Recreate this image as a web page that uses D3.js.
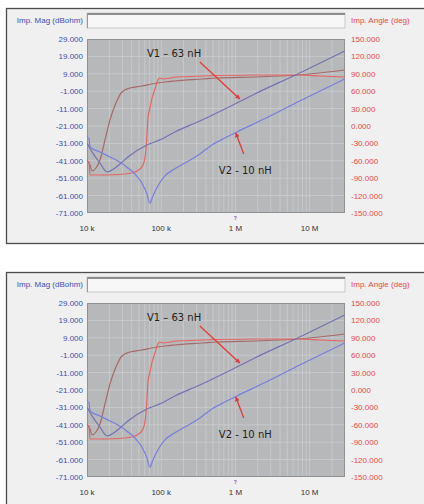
<!DOCTYPE html>
<html>
<head>
<meta charset="utf-8">
<script src="https://cdn.jsdelivr.net/npm/d3@7"></script>
<style>
html,body{margin:0;padding:0;background:#fff;}
svg{display:block;}
</style>
</head>
<body>
<svg id="chart" width="424" height="504"></svg>
<script>
// ---- data ----
const xTicks = [1e4, 1e5, 1e6, 1e7];
const xTickLabels = ["10 k", "100 k", "1 M", "10 M"];
const magTicks = [29, 19, 9, -1, -11, -21, -31, -41, -51, -61, -71];
const angleTicks = [150, 120, 90, 60, 30, 0, -30, -60, -90, -120, -150];

// V1 (63 nH) impedance magnitude, dBohm
const v1MagFreq = [10000, 11680, 14960, 18580, 21700, 27810, 35630, 64200, 96050, 152900, 331900, 1044000, 1824000, 7359000, 29680000];
const v1Mag     = [-30.8, -35.9, -42.3, -47.4, -46.3, -42.8, -38.8, -31.9, -29.0, -24.4, -18.1, -7.8, -2.6, 9.5, 22.1];

// V2 (10 nH) impedance magnitude, dBohm
const v2MagFreq = [10000, 10640, 10970, 14960, 20390, 26140, 35630, 44260, 54990, 64200, 70460, 77300, 90300, 112100, 143700, 208400, 331900, 481300, 720000, 1044000, 2267000, 7359000, 29680000];
const v2Mag     = [-27.9, -27.9, -33.1, -35.9, -38.8, -41.1, -45.1, -48.6, -53.8, -60.1, -65.3, -61.2, -55.5, -49.7, -46.3, -42.3, -37.1, -31.9, -27.9, -24.4, -17.6, -6.6, 6.0];

// V1 impedance angle, deg
const v1AngFreq = [10000, 10970, 11680, 13220, 14960, 17470, 20390, 24570, 29590, 37900, 54990, 74940, 112100, 152900, 364000, 561900, 1824000, 6915000, 29680000];
const v1Ang     = [-58.6, -67.2, -77.6, -72.4, -58.6, -24.1, 10.3, 39.7, 58.6, 65.5, 69.0, 72.4, 75.9, 77.6, 81.0, 82.8, 84.5, 87.9, 96.6];

// V2 impedance angle, deg
const v2AngFreq = [10000, 10640, 10970, 17470, 32460, 44260, 51690, 56720, 60330, 64200, 66220, 70460, 74940, 82280, 90300, 96050, 105400, 162700, 1824000, 7359000, 13680000, 29680000];
const v2Ang     = [-60.3, -62.1, -84.5, -84.5, -82.8, -79.3, -74.1, -67.2, -55.2, -17.2, 12.1, 31.0, 46.6, 63.8, 79.3, 82.8, 81.0, 84.5, 87.9, 87.9, 86.2, 84.5];

// annotations (data coordinates: frequency, dBohm)
const labelTexts = ["V1 – 63 nH", "V2 - 10 nH"];
const labelFreq  = [64200, 597900];
const labelMag   = [18.7, -48.6];
const arrowFromFreq = [331900, 1297000];
const arrowFromMag  = [15.8, -37.1];
const arrowToFreq   = [1146000, 1013000];
const arrowToMag    = [-5.5, -25.0];

// ---- drawing ----
const svg = d3.select("#chart");
const L = 87, R = 345, T = 39, B = 213;

const defs = svg.append("defs");
defs.append("marker")
  .attr("id", "ah").attr("viewBox", "0 0 10 10")
  .attr("refX", 9).attr("refY", 5)
  .attr("markerWidth", 5).attr("markerHeight", 5)
  .attr("markerUnits", "userSpaceOnUse")
  .attr("orient", "auto")
  .append("path").attr("d", "M0,0 L10,5 L0,10 z").attr("fill", "#e63a3a");
defs.append("clipPath").attr("id", "plotclip")
  .append("rect").attr("x", L).attr("y", T).attr("width", R - L).attr("height", B - T);

const x = d3.scaleLog().domain([1e4, 3e7]).range([L, R]);
const yMag = d3.scaleLinear().domain([-71, 29]).range([B, T]);
const yAng = d3.scaleLinear().domain([-150, 150]).range([B, T]);

const series = [
  {f: v1AngFreq, v: v1Ang, y: yAng, color: "#a76a6a"},
  {f: v2AngFreq, v: v2Ang, y: yAng, color: "#e86565"},
  {f: v1MagFreq, v: v1Mag, y: yMag, color: "#7474ae"},
  {f: v2MagFreq, v: v2Mag, y: yMag, color: "#7a7de0"}
];

function drawPanel(dy) {
  const g = svg.append("g").attr("transform", `translate(0,${dy})`);

  // frame
  g.append("rect").attr("x", 6.5).attr("y", 8.5).attr("width", 430).attr("height", 235)
    .attr("fill", "#f0f0f0").attr("stroke", "#4d4d4d").attr("stroke-width", 1.3);

  // header box
  g.append("rect").attr("x", L).attr("y", 13).attr("width", R - L).attr("height", 15)
    .attr("fill", "#f7f7f7").attr("stroke", "#c9c9c9").attr("stroke-width", 1);
  g.append("line").attr("x1", L).attr("x2", R).attr("y1", 14).attr("y2", 14)
    .attr("stroke", "#8e8e8e").attr("stroke-width", 2);
  g.append("line").attr("x1", L + 0.5).attr("x2", L + 0.5).attr("y1", 13).attr("y2", 28)
    .attr("stroke", "#9a9a9a").attr("stroke-width", 1);

  // axis titles
  g.append("text").attr("x", 83).attr("y", 23).attr("text-anchor", "end")
    .attr("font-family", "Liberation Sans, Arial, sans-serif").attr("font-size", 8)
    .attr("fill", "#3b4fb0").text("Imp. Mag (dBohm)");
  g.append("text").attr("x", 351).attr("y", 23).attr("text-anchor", "start")
    .attr("font-family", "Liberation Sans, Arial, sans-serif").attr("font-size", 8)
    .attr("fill", "#e84848").text("Imp. Angle (deg)");

  // plot background
  g.append("rect").attr("x", L).attr("y", T).attr("width", R - L).attr("height", B - T)
    .attr("fill", "#b6b8ba");

  // vertical log grid
  const vgrid = [];
  for (let e = 4; e <= 7; e++) for (let k = 1; k <= 9; k++) {
    const f = k * Math.pow(10, e);
    if (f > 1e4 && f < 3e7) vgrid.push(f);
  }
  g.append("g").selectAll("line").data(vgrid).join("line")
    .attr("x1", d => x(d)).attr("x2", d => x(d)).attr("y1", T).attr("y2", B)
    .attr("stroke", "#cbcdcf").attr("stroke-width", 0.8);
  // horizontal grid
  g.append("g").selectAll("line").data(magTicks.slice(1, -1)).join("line")
    .attr("x1", L).attr("x2", R).attr("y1", d => yMag(d)).attr("y2", d => yMag(d))
    .attr("stroke", "#cbcdcf").attr("stroke-width", 0.8);

  g.append("rect").attr("x", L + 0.5).attr("y", T + 0.5).attr("width", R - L - 1).attr("height", B - T - 1)
    .attr("fill", "none").attr("stroke", "#8f9193").attr("stroke-width", 1);

  // left ticks
  g.append("g").selectAll("text").data(magTicks).join("text")
    .attr("x", 83).attr("y", d => yMag(d) + 3).attr("text-anchor", "end")
    .attr("font-family", "Liberation Sans, Arial, sans-serif").attr("font-size", 8)
    .attr("fill", "#3b4fb0").text(d => d.toFixed(3));
  // right ticks
  g.append("g").selectAll("text").data(angleTicks).join("text")
    .attr("x", 351).attr("y", d => yAng(d) + 3).attr("text-anchor", "start")
    .attr("font-family", "Liberation Sans, Arial, sans-serif").attr("font-size", 8)
    .attr("fill", "#e84848").text(d => d.toFixed(3));
  // x ticks
  g.append("g").selectAll("text").data(xTicks).join("text")
    .attr("x", d => x(d)).attr("y", 231).attr("text-anchor", "middle")
    .attr("font-family", "Liberation Sans, Arial, sans-serif").attr("font-size", 8)
    .attr("fill", "#333").text((d, i) => xTickLabels[i]);
  // small marker at 1 M
  g.append("text").attr("x", x(1e6)).attr("y", 220).attr("text-anchor", "middle")
    .attr("font-family", "Liberation Sans, Arial, sans-serif").attr("font-size", 5)
    .attr("font-weight", "bold").attr("fill", "#8a3cc4").text("?");

  // curves
  const cg = g.append("g").attr("clip-path", "url(#plotclip)");
  series.forEach(s => {
    const pts = s.f.map((f, i) => [f, s.v[i]]);
    const line = d3.line().x(d => x(d[0])).y(d => s.y(d[1])).curve(d3.curveMonotoneX);
    cg.append("path").attr("d", line(pts)).attr("fill", "none")
      .attr("stroke", s.color).attr("stroke-width", 1.2);
  });

  // annotations
  g.append("g").selectAll("text").data(labelTexts).join("text")
    .attr("x", (d, i) => x(labelFreq[i])).attr("y", (d, i) => yMag(labelMag[i]))
    .attr("font-family", "DejaVu Sans, Verdana, sans-serif").attr("font-size", 10)
    .attr("fill", "#222").text(d => d);
  g.append("g").selectAll("line").data(arrowFromFreq).join("line")
    .attr("x1", (d, i) => x(arrowFromFreq[i])).attr("y1", (d, i) => yMag(arrowFromMag[i]))
    .attr("x2", (d, i) => x(arrowToFreq[i])).attr("y2", (d, i) => yMag(arrowToMag[i]))
    .attr("stroke", "#e63a3a").attr("stroke-width", 1.3)
    .attr("marker-end", "url(#ah)");
}

drawPanel(0);
drawPanel(264);
</script>
</body>
</html>
